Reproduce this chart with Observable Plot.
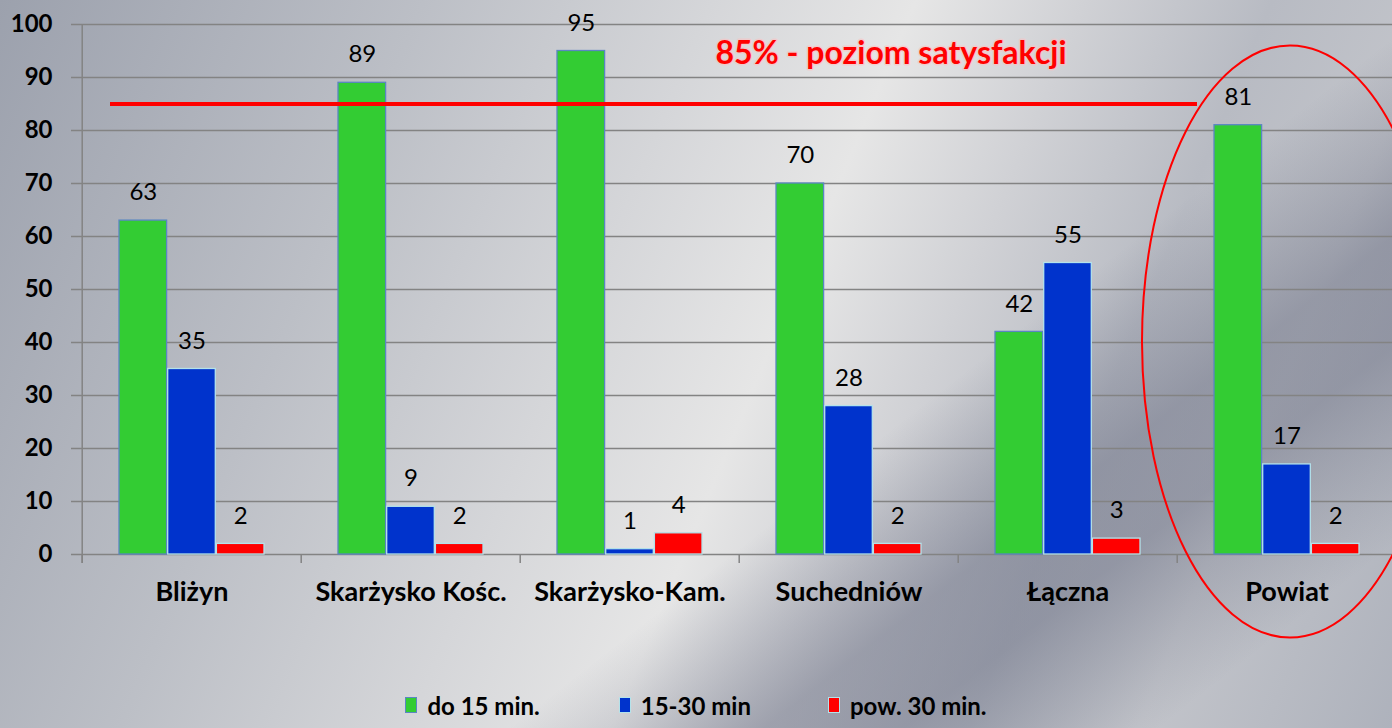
<!DOCTYPE html>
<html>
<head>
<meta charset="utf-8">
<script src="https://cdn.jsdelivr.net/npm/d3@7"></script>
<script src="https://cdn.jsdelivr.net/npm/@observablehq/plot@0.6"></script>
<style>
  html, body { margin: 0; padding: 0; }
  body {
    width: 1392px; height: 728px; overflow: hidden;
    font-family: Lato, "Open Sans", sans-serif;
    background:
      linear-gradient(142deg, rgba(95,100,122,0) 0%, rgba(95,100,122,0) 62%, rgba(95,100,122,0.45) 73%, rgba(95,100,122,0.45) 79%, rgba(95,100,122,0) 90%),
      linear-gradient(112.7deg, #9ca1ad 0%, #bcbfc6 25%, #d5d6d9 42%, #e6e6e6 54%, #d0d1d5 64%, #b8bbc3 75%, #c2c4ca 85%, #aeb2bc 100%);
  }
  #chart svg { background: transparent; }
  #legend {
    height: 46px; display: flex; justify-content: center; align-items: center;
    font-family: Lato, sans-serif; font-weight: bold; font-size: 24px; color: #000;
  }
  #legend .item { display: flex; align-items: center; }
  #legend .sw { width: 10px; height: 14px; margin-right: 10px; border: 1px solid; }
</style>
</head>
<body>
<div id="chart"></div>
<div id="legend"></div>
<script>
const categories = ["Bliżyn", "Skarżysko Kośc.", "Skarżysko-Kam.", "Suchedniów", "Łączna", "Powiat"];
const series = ["do 15 min.", "15-30 min", "pow. 30 min."];
const do15 = [63, 89, 95, 70, 42, 81];
const min15to30 = [35, 9, 1, 28, 55, 17];
const pow30 = [2, 2, 4, 2, 3, 2];
const threshold = 85;
const thresholdLabel = "85% - poziom satysfakcji";
const yTicks = [0, 10, 20, 30, 40, 50, 60, 70, 80, 90, 100];

const colors = ["#33cc33", "#0033cc", "#ff0000"];
const strokes = ["#5a86c2", "#b4e2ea", "#b4e2ea"];
const values = [do15, min15to30, pow30];

const data = categories.flatMap((c, i) => series.map((s, k) => ({category: c, series: s, k, value: values[k][i]})));

const xRange = [80, 1397.6];
const bw = (xRange[1] - xRange[0]) / categories.length;
const groupPad = 37;
const pitch = 48.7;
const gridColor = "#838383";

const ellipse = {
  draw(ctx) {
    const rx = 148, ry = 296, c = 0.5523;
    ctx.moveTo(rx, 0);
    ctx.bezierCurveTo(rx, c * ry, c * rx, ry, 0, ry);
    ctx.bezierCurveTo(-c * rx, ry, -rx, c * ry, -rx, 0);
    ctx.bezierCurveTo(-rx, -c * ry, -c * rx, -ry, 0, -ry);
    ctx.bezierCurveTo(c * rx, -ry, rx, -c * ry, rx, 0);
    ctx.closePath();
  }
};

const marks = [
  Plot.gridY(yTicks, {stroke: gridColor, strokeOpacity: 1, strokeWidth: 1.5}),
  Plot.axisY(yTicks, {tickSize: 9, tickPadding: 19, stroke: gridColor, strokeWidth: 1.5, fontSize: 24, fontWeight: "bold", fill: "#000", label: null}),
  Plot.axisX({tickSize: 0, tickPadding: 27, fontSize: 27, fontWeight: "bold", fill: "#000", label: null}),
  // category boundary ticks
  Plot.ruleX(categories, {x: d => d, dx: -bw / 2, y1: 0, y2: 0, insetBottom: -9, stroke: gridColor, strokeWidth: 1.5}),
  // y axis line
  Plot.ruleX([categories[0]], {x: d => d, dx: -bw / 2, y1: 100, y2: 0, insetBottom: -9, stroke: gridColor, strokeWidth: 1.5})
];

series.forEach((s, k) => {
  const rows = data.filter(d => d.k === k);
  marks.push(Plot.barY(rows, {
    x: "category", y: "value", fill: colors[k], stroke: strokes[k], strokeWidth: 1.3,
    insetLeft: groupPad + k * pitch, insetRight: groupPad + (2 - k) * pitch
  }));
});
series.forEach((s, k) => {
  const rows = data.filter(d => d.k === k);
  marks.push(Plot.text(rows, {
    x: "category", y: "value", text: d => String(d.value), dx: (k - 1) * pitch, dy: -28,
    fontSize: 24, fill: "#000"
  }));
});

marks.push(
  Plot.ruleY([threshold], {stroke: "#ff0000", strokeWidth: 4, insetLeft: 30, insetRight: 195}),
  Plot.text([thresholdLabel], {x: () => categories[3], y: () => threshold, text: d => d, dx: 42, dy: -50,
    fill: "#ff0000", fontSize: 32, fontWeight: "bold", stroke: "rgba(255,190,190,0.55)", strokeWidth: 3, paintOrder: "stroke"}),
  Plot.dot([categories[5]], {x: d => d, frameAnchor: "middle", symbol: ellipse, r: 1, dx: 3, dy: 52,
    stroke: "#ff0000", strokeWidth: 2, fill: "none"})
);

const chart = Plot.plot({
  width: 1392,
  height: 682,
  marginLeft: 80,
  marginRight: 0,
  marginTop: 24,
  marginBottom: 128,
  style: {background: "transparent", fontFamily: "Lato, 'Open Sans', sans-serif", color: "#000", overflow: "visible"},
  x: {domain: categories, range: xRange, padding: 0, axis: null},
  y: {domain: [0, 100], axis: null},
  marks
});
document.getElementById("chart").appendChild(chart);

const legend = document.getElementById("legend");
const gaps = [79, 77, 0];
series.forEach((s, k) => {
  const item = document.createElement("div");
  item.className = "item";
  item.style.marginRight = gaps[k] + "px";
  const sw = document.createElement("span");
  sw.className = "sw";
  sw.style.background = colors[k];
  sw.style.borderColor = strokes[k];
  item.appendChild(sw);
  const t = document.createElement("span");
  t.textContent = s;
  item.appendChild(t);
  legend.appendChild(item);
});
</script>
</body>
</html>
